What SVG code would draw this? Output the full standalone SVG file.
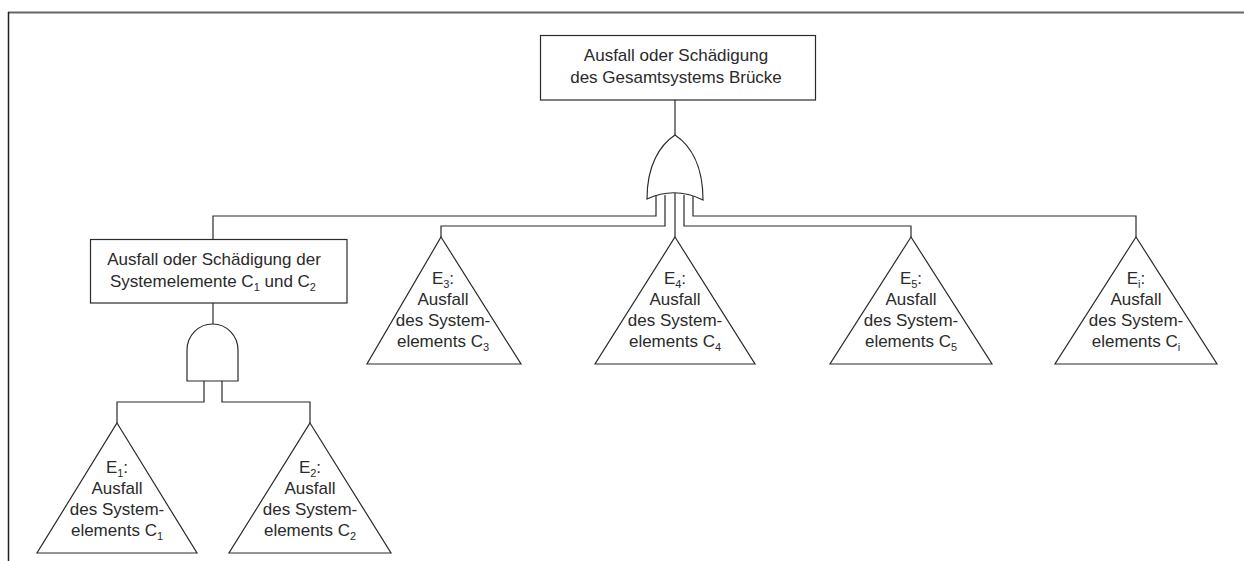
<svg xmlns="http://www.w3.org/2000/svg" width="1244" height="561" viewBox="0 0 1244 561">
  <style>
    .ln { fill: none; stroke: #2a2a2a; stroke-width: 1.2; }
    .shape { fill: #ffffff; stroke: #2a2a2a; stroke-width: 1.2; }
    .lbl { font-family: "Liberation Sans", Arial, sans-serif; font-size: 17px; fill: #2a2a2a; text-anchor: middle; }
    .sub { font-size: 11px; }
  </style>
  <rect width="1244" height="561" fill="#ffffff"/>

  <!-- frame -->
  <g id="frame">
    <line x1="8" y1="12.5" x2="1244" y2="12.5" stroke="#666" stroke-width="2"/>
    <line x1="8.5" y1="12" x2="8.5" y2="561" stroke="#222" stroke-width="1.5"/>
  </g>

  <!-- connectors -->
  <g id="connectors" class="ln">
    <line x1="675" y1="100" x2="675" y2="135"/>
    <polyline points="656,195 656,216 213,216 213,239"/>
    <polyline points="665,195 665,226 441,226 441,237"/>
    <line x1="675" y1="193" x2="675" y2="237"/>
    <polyline points="684,195 684,226 911,226 911,237"/>
    <polyline points="693,195 693,216 1136,216 1136,237"/>
    <line x1="213" y1="303" x2="213" y2="324"/>
    <polyline points="204,378 204,402 117,402 117,423"/>
    <polyline points="222,378 222,402 310,402 310,423"/>
  </g>

  <!-- top event -->
  <g id="top-event">
    <rect class="shape" x="540.5" y="35.5" width="275" height="64.5"/>
    <text class="lbl" x="676" y="61">Ausfall oder Schädigung</text>
    <text class="lbl" x="676" y="83">des Gesamtsystems Brücke</text>
  </g>

  <!-- OR gate -->
  <g id="or-gate">
    <path class="shape" d="M675,135 C660,145 647,165 647,199 Q675,186 703,200 C703,165 690,145 675,135 Z"/>
  </g>

  <!-- intermediate event C1/C2 -->
  <g id="event-c1c2">
    <rect class="shape" x="90.5" y="239.5" width="256.5" height="63.5"/>
    <text class="lbl" x="214" y="265">Ausfall oder Schädigung der</text>
    <text class="lbl" x="213" y="287">Systemelemente C<tspan class="sub" dy="4">1</tspan><tspan dy="-4"> und C</tspan><tspan class="sub" dy="4">2</tspan></text>
  </g>

  <!-- AND gate -->
  <g id="and-gate">
    <path class="shape" d="M187,381 V350 A25.5,26 0 0 1 238,350 V381 Z"/>
  </g>

  <!-- basic events -->
  <g id="e1">
    <polygon class="shape" points="117,423 197,553 37,553"/>
    <text class="lbl" x="117" y="473">E<tspan class="sub" dy="4">1</tspan><tspan dy="-4">:</tspan></text>
    <text class="lbl" x="117" y="494">Ausfall</text>
    <text class="lbl" x="117" y="515">des System-</text>
    <text class="lbl" x="117" y="536">elements C<tspan class="sub" dy="4">1</tspan></text>
  </g>
  <g id="e2">
    <polygon class="shape" points="310,423 391,553 229,553"/>
    <text class="lbl" x="310" y="473">E<tspan class="sub" dy="4">2</tspan><tspan dy="-4">:</tspan></text>
    <text class="lbl" x="310" y="494">Ausfall</text>
    <text class="lbl" x="310" y="515">des System-</text>
    <text class="lbl" x="310" y="536">elements C<tspan class="sub" dy="4">2</tspan></text>
  </g>
  <g id="e3">
    <polygon class="shape" points="441,237 521,364 367,364"/>
    <text class="lbl" x="443" y="284">E<tspan class="sub" dy="4">3</tspan><tspan dy="-4">:</tspan></text>
    <text class="lbl" x="443" y="305">Ausfall</text>
    <text class="lbl" x="443" y="326">des System-</text>
    <text class="lbl" x="443" y="347">elements C<tspan class="sub" dy="4">3</tspan></text>
  </g>
  <g id="e4">
    <polygon class="shape" points="675,237 755,364 595,364"/>
    <text class="lbl" x="675" y="284">E<tspan class="sub" dy="4">4</tspan><tspan dy="-4">:</tspan></text>
    <text class="lbl" x="675" y="305">Ausfall</text>
    <text class="lbl" x="675" y="326">des System-</text>
    <text class="lbl" x="675" y="347">elements C<tspan class="sub" dy="4">4</tspan></text>
  </g>
  <g id="e5">
    <polygon class="shape" points="911,237 992,364 830,364"/>
    <text class="lbl" x="911" y="284">E<tspan class="sub" dy="4">5</tspan><tspan dy="-4">:</tspan></text>
    <text class="lbl" x="911" y="305">Ausfall</text>
    <text class="lbl" x="911" y="326">des System-</text>
    <text class="lbl" x="911" y="347">elements C<tspan class="sub" dy="4">5</tspan></text>
  </g>
  <g id="ei">
    <polygon class="shape" points="1136,237 1217,364 1055,364"/>
    <text class="lbl" x="1136" y="284">E<tspan class="sub" dy="4">i</tspan><tspan dy="-4">:</tspan></text>
    <text class="lbl" x="1136" y="305">Ausfall</text>
    <text class="lbl" x="1136" y="326">des System-</text>
    <text class="lbl" x="1136" y="347">elements C<tspan class="sub" dy="4">i</tspan></text>
  </g>
</svg>
